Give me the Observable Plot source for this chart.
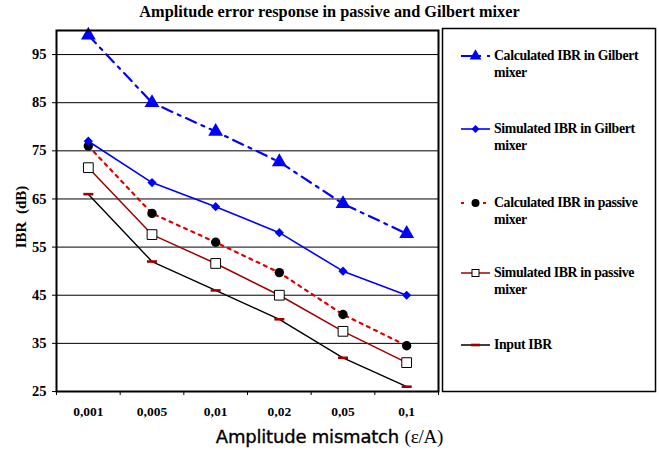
<!DOCTYPE html>
<html>
<head>
<meta charset="utf-8">
<script src="https://cdn.jsdelivr.net/npm/d3@7"></script>
<script src="https://cdn.jsdelivr.net/npm/@observablehq/plot@0.6"></script>
<style>
  body { margin: 0; background: #fff; }
  #wrap { position: relative; width: 659px; height: 450px; overflow: hidden; }
  #wrap > svg { position: absolute; left: 0; top: 0; }
  .title { position: absolute; left: 0; width: 659px; top: 2px; text-align: center; line-height: 20px;
    font: bold 16.3px "Liberation Serif", "Times New Roman", Times, serif; }
  .xtitle { position: absolute; left: 0; width: 659px; top: 426px; text-align: center; line-height: 22px;
    font: 18px "DejaVu Sans", sans-serif; letter-spacing: -0.2px; -webkit-text-stroke: 0.35px #000; }
  .xtitle .s { font-family: "Liberation Serif", "Times New Roman", Times, serif; font-size: 19px; -webkit-text-stroke: 0; }
  .lgtext { position: absolute; left: 494px; font: bold 13.8px/17px "Liberation Serif", "Times New Roman", Times, serif;
    letter-spacing: -0.35px; white-space: nowrap; }
</style>
</head>
<body>
<div id="wrap">
  <div class="title">Amplitude error response in passive and Gilbert mixer</div>
  <div class="xtitle">Amplitude mismatch <span class="s">(ε/A)</span></div>
</div>
<script>
const categories = ["0,001", "0,005", "0,01", "0,02", "0,05", "0,1"];
const calcGilbert = [99, 85, 79, 72.7, 64, 57.8];
const simGilbert = [77, 68.4, 63.4, 58, 50, 45];
const calcPassive = [76, 62, 56, 49.7, 41, 34.5];
const simPassive = [71.5, 57.6, 51.6, 45, 37.5, 31];
const inputIBR = [66, 52, 46, 40, 32, 26];
const yTicks = [25, 35, 45, 55, 65, 75, 85, 95];
const seriesNames = [
  ["Calculated IBR in Gilbert", "mixer"],
  ["Simulated IBR in Gilbert", "mixer"],
  ["Calculated IBR in passive", "mixer"],
  ["Simulated IBR in passive", "mixer"],
  ["Input IBR"]
];

const rows = (vals) => vals.map((v, i) => ({i, v}));
const dashSymbol = { draw(ctx, size) { const w = 5, h = 1.3; ctx.moveTo(-w, -h); ctx.lineTo(w, -h); ctx.lineTo(w, h); ctx.lineTo(-w, h); ctx.closePath(); } };
const rhombus = { draw(ctx, size) { const a = 4.6; ctx.moveTo(0, -a); ctx.lineTo(a, 0); ctx.lineTo(0, a); ctx.lineTo(-a, 0); ctx.closePath(); } };

const BLUE = "#0000ff", RED = "#dd0000", DRED = "#a00000";
const serif = "'Liberation Serif', 'Times New Roman', Times, serif";

const chart = Plot.plot({
  width: 659, height: 450,
  marginLeft: 56, marginRight: 221, marginTop: 30, marginBottom: 59,
  style: {fontFamily: serif, fontSize: "13px", fontWeight: "bold", background: "transparent"},
  x: {type: "linear", domain: [-0.5, categories.length - 0.5]},
  y: {domain: [25, 100]},
  marks: [
    Plot.ruleY(yTicks.slice(1), {stroke: "#000", strokeWidth: 1}),
    Plot.axisY({ticks: yTicks, tickSize: 4, tickPadding: 6, tickFormat: d => d, label: null, fontSize: 14.5}),
    Plot.axisX({ticks: d3.range(categories.length + 1).map(i => i - 0.5), tickSize: 4, tickFormat: () => "", label: null}),
    Plot.axisX({ticks: d3.range(categories.length), tickSize: 0, tickPadding: 15, tickFormat: i => categories[i], label: null, fontSize: 13.5}),
    Plot.text(["IBR  (dB)"], {frameAnchor: "left", textAnchor: "middle", dx: -35, dy: 6, rotate: -90, fontSize: 15, fontWeight: "bold"}),
    // input IBR
    Plot.line(rows(inputIBR), {x: "i", y: "v", stroke: "#000", strokeWidth: 1.4}),
    Plot.dot(rows(inputIBR), {x: "i", y: "v", symbol: dashSymbol, r: 5, fill: DRED, stroke: "none"}),
    // simulated passive
    Plot.line(rows(simPassive), {x: "i", y: "v", stroke: DRED, strokeWidth: 1.5}),
    Plot.dot(rows(simPassive), {x: "i", y: "v", symbol: "square", r: 5.5, fill: "#fff", stroke: "#000", strokeWidth: 1}),
    // calculated passive
    Plot.line(rows(calcPassive), {x: "i", y: "v", stroke: RED, strokeWidth: 2.2, strokeDasharray: "3,5"}),
    Plot.dot(rows(calcPassive), {x: "i", y: "v", r: 4.7, fill: "#000", stroke: "none"}),
    // simulated gilbert
    Plot.line(rows(simGilbert), {x: "i", y: "v", stroke: BLUE, strokeWidth: 1.6}),
    Plot.dot(rows(simGilbert), {x: "i", y: "v", symbol: rhombus, r: 4.2, fill: BLUE, stroke: "none"}),
    // calculated gilbert
    Plot.line(rows(calcGilbert), {x: "i", y: "v", stroke: BLUE, strokeWidth: 2.2, strokeDasharray: "11,6,3,6"}),
    Plot.dot(rows(calcGilbert), {x: "i", y: "v", symbol: "triangle", r: 5.5, fill: BLUE, stroke: "none"}),
    Plot.frame({stroke: "#000", strokeWidth: 2})
  ]
});
document.getElementById("wrap").appendChild(chart);

// Legend
const wrap = d3.select("#wrap");
const lg = wrap.append("svg").attr("width", 659).attr("height", 450).style("position", "absolute").style("left", 0).style("top", 0);
lg.append("rect").attr("x", 442.5).attr("y", 28.5).attr("width", 213).attr("height", 363).attr("fill", "#fff").attr("stroke", "#000").attr("stroke-width", 1.5);
const legendY = [56, 129, 203, 273, 345];
const sym = d3.symbol();
seriesNames.forEach((lines, k) => {
  const g = lg.append("g").attr("transform", `translate(0,${legendY[k]})`);
  const x1 = 461, x2 = 490, xm = 475.5;
  if (k === 0) {
    g.append("line").attr("x1", x1).attr("x2", x2).attr("stroke", BLUE).attr("stroke-width", 2.2).attr("stroke-dasharray", "11,6,3,6");
    g.append("path").attr("d", sym.type(d3.symbolTriangle).size(60)()).attr("transform", `translate(${xm},0)`).attr("fill", BLUE);
  } else if (k === 1) {
    g.append("line").attr("x1", x1).attr("x2", x2).attr("stroke", BLUE).attr("stroke-width", 1.6);
    g.append("path").attr("d", "M0,-4L4,0L0,4L-4,0Z").attr("transform", `translate(${xm},0)`).attr("fill", BLUE);
  } else if (k === 2) {
    g.append("line").attr("x1", x1).attr("x2", x2).attr("stroke", RED).attr("stroke-width", 2.2).attr("stroke-dasharray", "3,8");
    g.append("circle").attr("cx", xm).attr("r", 4).attr("fill", "#000");
  } else if (k === 3) {
    g.append("line").attr("x1", x1).attr("x2", x2).attr("stroke", DRED).attr("stroke-width", 1.5);
    g.append("rect").attr("x", xm - 3.5).attr("y", -3.5).attr("width", 7).attr("height", 7).attr("fill", "#fff").attr("stroke", "#000");
  } else {
    g.append("line").attr("x1", x1).attr("x2", x2).attr("stroke", "#000").attr("stroke-width", 1.5);
    g.append("rect").attr("x", xm - 4.5).attr("y", -1.3).attr("width", 9).attr("height", 2.6).attr("fill", DRED);
  }
  wrap.append("div").attr("class", "lgtext").style("top", (legendY[k] - 9) + "px").html(lines.join("<br>"));
});
</script>
</body>
</html>
